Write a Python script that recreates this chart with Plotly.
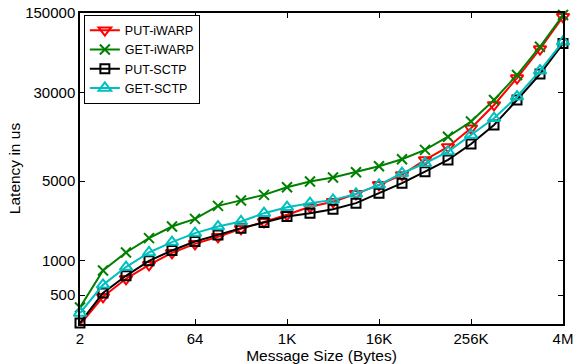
import plotly.graph_objects as go

sizes = [2**i for i in range(1, 23)]
x_tick_vals = [2, 64, 1024, 16384, 262144, 4194304]
x_tick_text = ["2", "64", "1K", "16K", "256K", "4M"]
y_tick_vals = [500, 1000, 5000, 30000, 150000]

put_iwarp = [275, 483, 695, 922, 1175, 1409, 1624, 1909, 2198, 2535, 2980, 3300,
             3870, 4645, 5675, 7690, 10000, 14590, 23350, 40270, 72400, 139000]
get_iwarp = [389, 822, 1183, 1582, 2000, 2334, 3035, 3381, 3793, 4430, 4966, 5385,
             6000, 6773, 7800, 9420, 12300, 16700, 25800, 42800, 75800, 144000]
put_sctp = [285, 521, 738, 1000, 1231, 1476, 1689, 1935, 2168, 2448, 2620, 2840,
            3207, 3925, 4808, 6068, 7690, 10620, 15600, 25800, 43600, 81000]
get_sctp = [348, 615, 881, 1183, 1459, 1750, 2000, 2213, 2620, 2958, 3207, 3428,
            3870, 4645, 5875, 7190, 9100, 12730, 17860, 27600, 46700, 83900]

series = [
    ("PUT-iWARP", put_iwarp, "rgb(255,0,0)", "triangle-down-open", 11),
    ("GET-iWARP", get_iwarp, "rgb(0,128,0)", "x-thin-open", 10),
    ("PUT-SCTP", put_sctp, "rgb(0,0,0)", "square-open", 9),
    ("GET-SCTP", get_sctp, "rgb(0,191,191)", "triangle-up-open", 11),
]

fig = go.Figure()
for name, vals, color, sym, sz in series:
    fig.add_trace(go.Scatter(
        x=sizes, y=vals, name=name, mode="lines+markers",
        line=dict(color=color, width=2),
        marker=dict(symbol=sym, size=sz, color=color, line=dict(color=color, width=2)),
        cliponaxis=False,
    ))

font = "Liberation Sans, Arial, Helvetica, sans-serif"
fig.update_layout(
    width=579, height=364,
    margin=dict(l=80, r=16, t=13, b=40),
    paper_bgcolor="white", plot_bgcolor="white",
    font=dict(family=font, size=15, color="black"),
    showlegend=True,
    legend=dict(x=0.008, y=0.995, xanchor="left", yanchor="top",
                bgcolor="white", bordercolor="black", borderwidth=1,
                font=dict(size=12.5), tracegroupgap=0, itemwidth=30),
    xaxis=dict(type="log", range=[0.3010, 6.6227], automargin=False,
               tickvals=x_tick_vals, ticktext=x_tick_text,
               ticks="inside", ticklen=5, tickcolor="black",
               showline=True, linecolor="black", linewidth=1.5, mirror="ticks",
               showgrid=False, zeroline=False,
               title=dict(text="Message Size (Bytes)", standoff=2, font=dict(size=15.5))),
    yaxis=dict(type="log", range=[2.445, 5.176], automargin=False,
               tickvals=y_tick_vals, ticktext=[str(v) for v in y_tick_vals],
               ticks="inside", ticklen=5, tickcolor="black",
               showline=True, linecolor="black", linewidth=1.5, mirror="ticks",
               showgrid=False, zeroline=False,
               title=dict(text="Latency in us", standoff=1, font=dict(size=15.5))),
)

fig.write_html("out.html", config={"displayModeBar": False},
               post_script="document.body.style.margin='0';")
